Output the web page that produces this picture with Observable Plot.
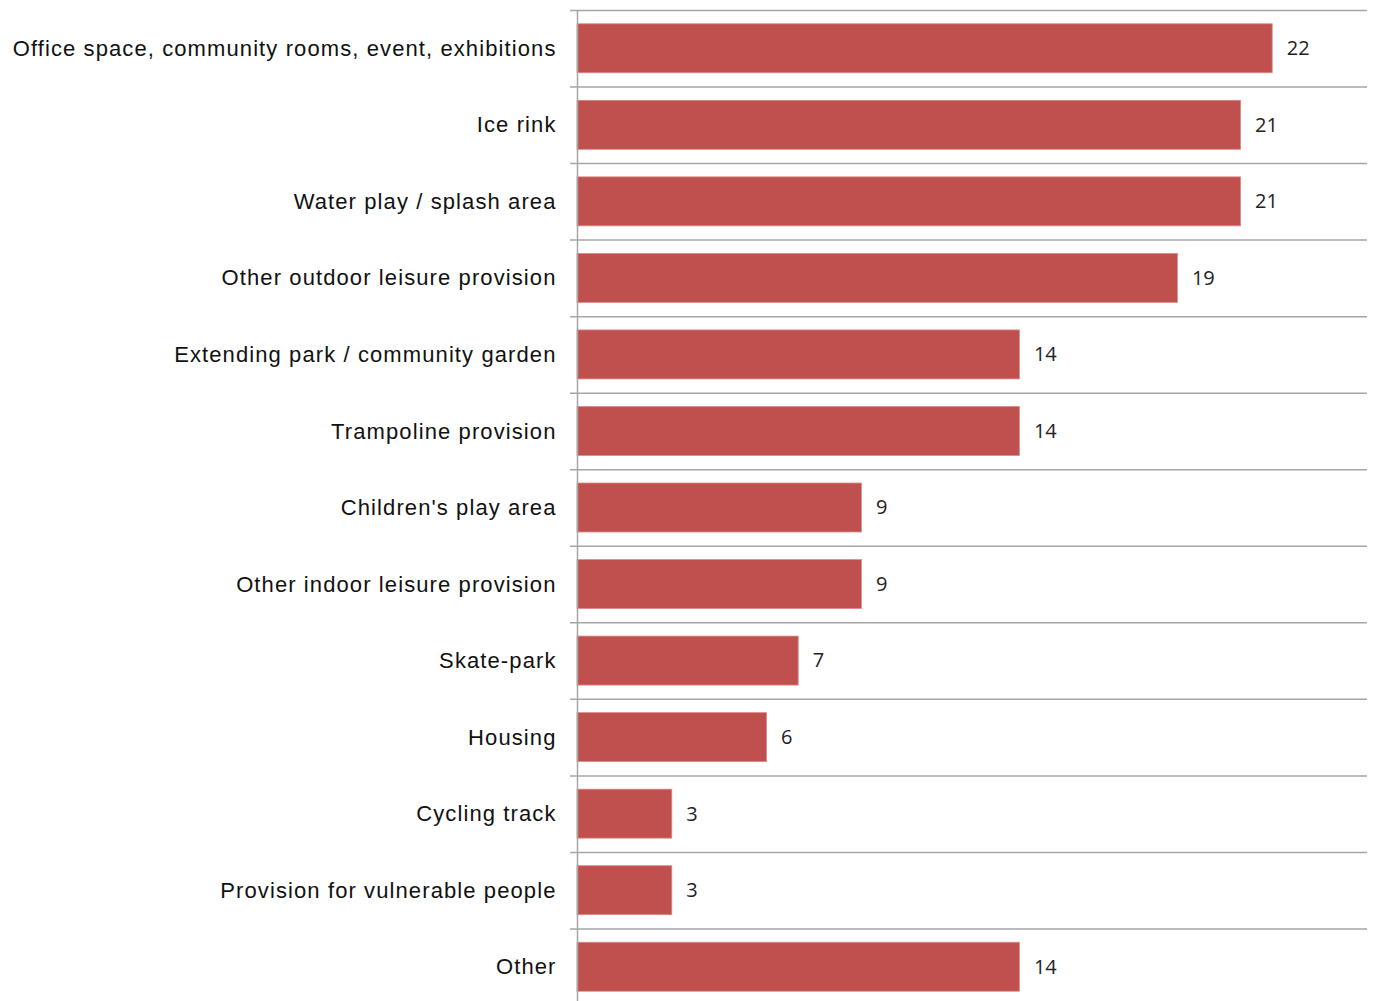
<!DOCTYPE html>
<html>
<head>
<meta charset="utf-8">
<script src="https://cdn.jsdelivr.net/npm/d3@7"></script>
<script src="https://cdn.jsdelivr.net/npm/@observablehq/plot@0.6"></script>
<style>
  html, body { margin: 0; padding: 0; background: #fff; overflow: hidden; }
  #chart svg { display: block; }
  #chart g[aria-label="y-axis tick label"] { letter-spacing: 1.1px; }
</style>
</head>
<body>
<div id="chart"></div>
<script>
const categories = [
  "Office space, community rooms, event, exhibitions",
  "Ice rink",
  "Water play / splash area",
  "Other outdoor leisure provision",
  "Extending park / community garden",
  "Trampoline provision",
  "Children's play area",
  "Other indoor leisure provision",
  "Skate-park",
  "Housing",
  "Cycling track",
  "Provision for vulnerable people",
  "Other"
];
const values = [22, 21, 21, 19, 14, 14, 9, 9, 7, 6, 3, 3, 14];

const data = categories.map((c, i) => ({category: c, value: values[i]}));

const W = 1373, H = 1005, mTop = 10, mBottom = 0;
const step = (H - mTop - mBottom) / categories.length;

const chart = Plot.plot({
  width: W,
  height: H,
  marginLeft: 577,
  marginRight: 6,
  marginTop: mTop,
  marginBottom: mBottom,
  style: {fontFamily: "'Liberation Sans', Arial, sans-serif", background: "#fff"},
  x: {domain: [0, 25], axis: null},
  y: {domain: categories, paddingInner: 0.36, paddingOuter: 0.18, round: false, axis: null},
  marks: [
    Plot.ruleY(categories, {y: d => d, dy: -step / 2, stroke: "#a6a6a6", strokeWidth: 1.5, insetLeft: -7}),
    Plot.barX(data, {y: "category", x: "value", fill: "#C0504D", stroke: "#d98b89", strokeWidth: 0.8}),
    Plot.ruleX([0], {stroke: "#a6a6a6", strokeWidth: 1.5}),
    Plot.text(data, {y: "category", x: "value", text: d => String(d.value), dx: 14, textAnchor: "start", fontSize: 20, fill: "#222", fontFamily: "'Open Sans', sans-serif"}),
    Plot.axisY({tickSize: 0, tickPadding: 21, fontSize: 22, fill: "#111", label: null})
  ]
});
document.getElementById("chart").appendChild(chart);
</script>
</body>
</html>
